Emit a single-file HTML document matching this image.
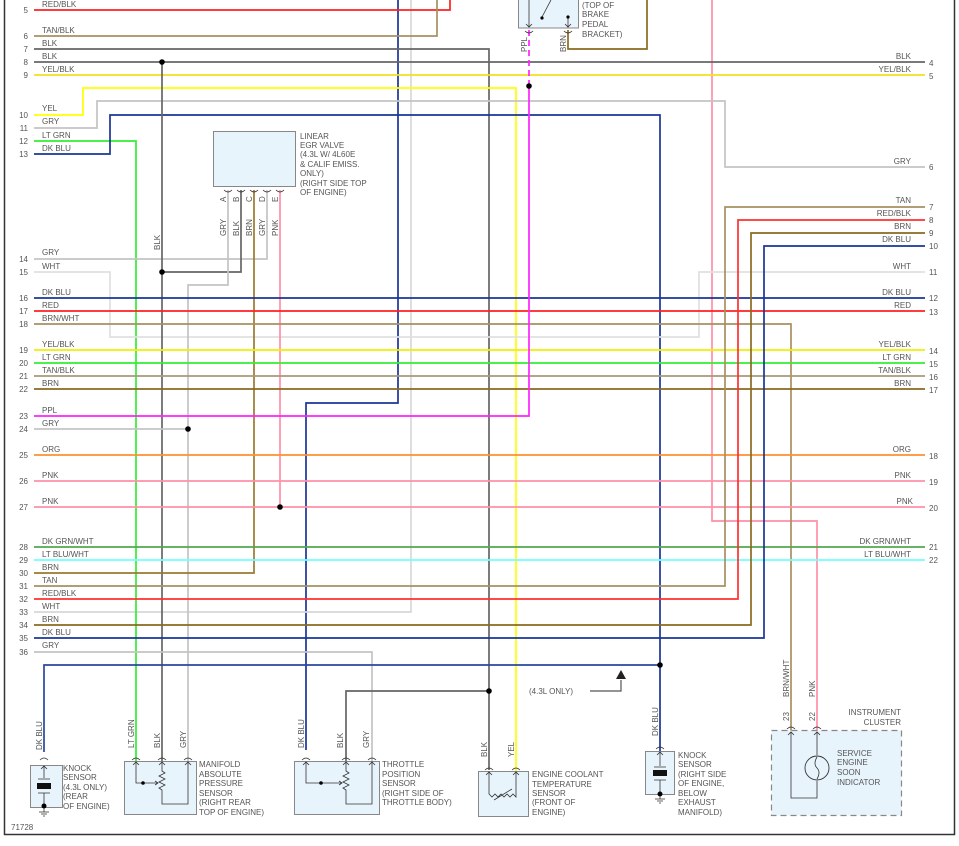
<!DOCTYPE html>
<html><head><meta charset="utf-8"><style>
html,body{margin:0;padding:0;background:#fff;}
svg{display:block;}
text{font-family:"Liberation Sans",sans-serif;font-size:8px;fill:#555;}
</style></head><body>
<svg width="959" height="846" viewBox="0 0 959 846" xmlns="http://www.w3.org/2000/svg">
<rect x="0" y="0" width="959" height="846" fill="#fff"/>
<!-- border -->
<path d="M4.5 0 V834.5 H954.5 V0" fill="none" stroke="#333" stroke-width="1.5"/>

<g fill="none" stroke-width="1.7">
<!-- vertical pass lines from top -->
<path d="M398 0 V403 H306 V750" stroke="#1a3596"/>
<path d="M411 0 V612 H34" stroke="#d8d8d8"/>
<path d="M712 0 V521 H817 V752" stroke="#ff8fa8"/>

<!-- left rows -->
<path d="M34 10 H450 V0" stroke="#ff2020"/>
<path d="M34 36 H437 V0" stroke="#a89060"/>
<path d="M34 49 H489 V770" stroke="#666"/>
<path d="M34 62 H925" stroke="#666"/>
<path d="M34 75 H925" stroke="#f0e020"/>
<path d="M34 115 H83 V88 H516 V772" stroke="#ffff00"/>
<path d="M34 128 H97 V101 H725 V167 H925" stroke="#c4c4c4"/>
<path d="M34 141 H136 V762" stroke="#33ee33"/>
<path d="M34 154 H110 V115 H660 V752" stroke="#1a3596"/>
<path d="M34 259 H267 V190" stroke="#c4c4c4"/>
<path d="M34 272 H110 V337 H699 V272 H925" stroke="#e0e0e0"/>
<path d="M162 62 V762" stroke="#666"/>
<path d="M241 190 V272 H162" stroke="#666"/>
<path d="M228 190 V285 H188 V762" stroke="#c4c4c4"/>
<path d="M254 190 V573 H34" stroke="#9a7a30"/>
<path d="M280 190 V507" stroke="#ff8fa8"/>
<path d="M34 298 H925" stroke="#1a3596"/>
<path d="M34 311 H925" stroke="#ff2020"/>
<path d="M34 324 H791 V752" stroke="#a89060"/>
<path d="M34 350 H925" stroke="#f0f000"/>
<path d="M34 363 H925" stroke="#33ee33"/>
<path d="M34 376 H925" stroke="#a89878"/>
<path d="M34 389 H925" stroke="#8a6a20"/>
<path d="M34 416 H529 V86" stroke="#ff22ff"/>
<path d="M529 86 V30" stroke="#ff22ff" stroke-dasharray="6 4"/>
<path d="M34 429 H188" stroke="#c4c4c4"/>
<path d="M34 455 H925" stroke="#ff9030"/>
<path d="M34 481 H925" stroke="#ff8fa8"/>
<path d="M34 507 H925" stroke="#ff8fa8"/>
<path d="M34 547 H925" stroke="#50a850"/>
<path d="M34 560 H925" stroke="#70ffff"/>
<path d="M34 586 H725 V207 H925" stroke="#a89060"/>
<path d="M34 599 H738 V220 H925" stroke="#ff3030"/>
<path d="M34 625 H751 V233 H925" stroke="#8a6a20"/>
<path d="M34 638 H764 V246 H925" stroke="#1a3596"/>
<path d="M34 652 H372 V762" stroke="#c4c4c4"/>
<path d="M44 752 V665 H660" stroke="#2a48a0"/>
<path d="M346 762 V691 H489" stroke="#666"/>
<path d="M568 30 V49 H647 V0" stroke="#8a6a20"/>
<path d="M590 691 H621 V680" stroke="#555" stroke-width="1.2"/>
</g>
<polygon points="621,670 616,679 626,679" fill="#222"/>

<!-- junction dots -->
<g fill="#000">
<circle cx="162" cy="62" r="2.8"/><circle cx="162" cy="272" r="2.8"/>
<circle cx="188" cy="429" r="2.8"/><circle cx="280" cy="507" r="2.8"/>
<circle cx="529" cy="86" r="2.8"/><circle cx="489" cy="691" r="2.8"/>
<circle cx="660" cy="665" r="2.8"/>
</g>

<!-- left labels -->
<g>
<text x="42" y="7">RED/BLK</text><text x="42" y="33">TAN/BLK</text><text x="42" y="46">BLK</text>
<text x="42" y="59">BLK</text><text x="42" y="72">YEL/BLK</text><text x="42" y="111">YEL</text>
<text x="42" y="124">GRY</text><text x="42" y="138">LT GRN</text><text x="42" y="151">DK BLU</text>
<text x="42" y="255">GRY</text><text x="42" y="269">WHT</text><text x="42" y="295">DK BLU</text>
<text x="42" y="308">RED</text><text x="42" y="321">BRN/WHT</text><text x="42" y="347">YEL/BLK</text>
<text x="42" y="360">LT GRN</text><text x="42" y="373">TAN/BLK</text><text x="42" y="386">BRN</text>
<text x="42" y="413">PPL</text><text x="42" y="426">GRY</text><text x="42" y="452">ORG</text>
<text x="42" y="478">PNK</text><text x="42" y="504">PNK</text><text x="42" y="544">DK GRN/WHT</text>
<text x="42" y="557">LT BLU/WHT</text><text x="42" y="570">BRN</text><text x="42" y="583">TAN</text>
<text x="42" y="596">RED/BLK</text><text x="42" y="609">WHT</text><text x="42" y="622">BRN</text>
<text x="42" y="635">DK BLU</text><text x="42" y="648">GRY</text>
</g>
<g text-anchor="end">
<text x="28" y="13">5</text><text x="28" y="39">6</text><text x="28" y="52">7</text><text x="28" y="65">8</text>
<text x="28" y="78">9</text><text x="28" y="118">10</text><text x="28" y="131">11</text><text x="28" y="144">12</text>
<text x="28" y="157">13</text><text x="28" y="262">14</text><text x="28" y="275">15</text><text x="28" y="301">16</text>
<text x="28" y="314">17</text><text x="28" y="327">18</text><text x="28" y="353">19</text><text x="28" y="366">20</text>
<text x="28" y="379">21</text><text x="28" y="392">22</text><text x="28" y="419">23</text><text x="28" y="432">24</text>
<text x="28" y="458">25</text><text x="28" y="484">26</text><text x="28" y="510">27</text><text x="28" y="550">28</text>
<text x="28" y="563">29</text><text x="28" y="576">30</text><text x="28" y="589">31</text><text x="28" y="602">32</text>
<text x="28" y="615">33</text><text x="28" y="628">34</text><text x="28" y="641">35</text><text x="28" y="655">36</text>
</g>
<!-- right labels -->
<g text-anchor="end">
<text x="911" y="59">BLK</text><text x="911" y="72">YEL/BLK</text><text x="911" y="164">GRY</text>
<text x="911" y="203">TAN</text><text x="911" y="216">RED/BLK</text><text x="911" y="229">BRN</text>
<text x="911" y="242">DK BLU</text><text x="911" y="269">WHT</text><text x="911" y="295">DK BLU</text>
<text x="911" y="308">RED</text><text x="911" y="347">YEL/BLK</text><text x="911" y="360">LT GRN</text>
<text x="911" y="373">TAN/BLK</text><text x="911" y="386">BRN</text><text x="911" y="452">ORG</text>
<text x="911" y="478">PNK</text><text x="913" y="504">PNK</text><text x="911" y="544">DK GRN/WHT</text>
<text x="911" y="557">LT BLU/WHT</text>
</g>
<g>
<text x="929" y="66">4</text><text x="929" y="79">5</text><text x="929" y="170">6</text><text x="929" y="210">7</text>
<text x="929" y="223">8</text><text x="929" y="236">9</text><text x="929" y="249">10</text><text x="929" y="275">11</text>
<text x="929" y="301">12</text><text x="929" y="315">13</text><text x="929" y="354">14</text><text x="929" y="367">15</text>
<text x="929" y="380">16</text><text x="929" y="393">17</text><text x="929" y="459">18</text><text x="929" y="485">19</text>
<text x="929" y="511">20</text><text x="929" y="550">21</text><text x="929" y="563">22</text>
</g>

<!-- brake switch -->
<rect x="518.5" y="-2" width="60" height="30" fill="#e8f4fc" stroke="#888" stroke-width="1"/>
<path d="M529 0 V27 M526 24 L529 27 L532 24 M568 17 V27 M565 24 L568 27 L571 24 M542 17 L551 0" stroke="#333" fill="none" stroke-width="0.8"/>
<circle cx="542" cy="18" r="1.6" fill="#000"/><circle cx="568" cy="17" r="1.6" fill="#000"/>
<path d="M525 31 Q529 35 533 31 M564 31 Q568 35 572 31" stroke="#333" fill="none" stroke-width="0.8"/>
<text x="582" y="8">(TOP OF</text><text x="582" y="17">BRAKE</text><text x="582" y="27">PEDAL</text><text x="582" y="37">BRACKET)</text>
<text transform="translate(527,52) rotate(-90)">PPL</text>
<text transform="translate(566,52) rotate(-90)">BRN</text>

<!-- EGR valve -->
<rect x="213.5" y="131.5" width="82" height="55" fill="#e8f4fc" stroke="#888" stroke-width="1"/>
<path d="M224 190 Q228 194 232 190 M237 190 Q241 194 245 190 M250 190 Q254 194 258 190 M263 190 Q267 194 271 190 M276 190 Q280 194 284 190" stroke="#333" fill="none" stroke-width="0.8"/>
<text x="300" y="139">LINEAR</text><text x="300" y="148">EGR VALVE</text><text x="300" y="157">(4.3L W/ 4L60E</text>
<text x="300" y="167">&amp; CALIF EMISS.</text><text x="300" y="176">ONLY)</text><text x="300" y="186">(RIGHT SIDE TOP</text><text x="300" y="195">OF ENGINE)</text>
<g>
<text transform="translate(226,202) rotate(-90)">A</text><text transform="translate(239,202) rotate(-90)">B</text>
<text transform="translate(252,202) rotate(-90)">C</text><text transform="translate(265,202) rotate(-90)">D</text>
<text transform="translate(278,202) rotate(-90)">E</text>
<text transform="translate(226,236) rotate(-90)">GRY</text><text transform="translate(239,236) rotate(-90)">BLK</text>
<text transform="translate(252,236) rotate(-90)">BRN</text><text transform="translate(265,236) rotate(-90)">GRY</text>
<text transform="translate(278,236) rotate(-90)">PNK</text>
<text transform="translate(160,250) rotate(-90)">BLK</text>
</g>

<!-- bottom vertical labels -->
<g>
<text transform="translate(42,750) rotate(-90)">DK BLU</text>
<text transform="translate(134,748) rotate(-90)">LT GRN</text>
<text transform="translate(160,748) rotate(-90)">BLK</text>
<text transform="translate(186,748) rotate(-90)">GRY</text>
<text transform="translate(304,748) rotate(-90)">DK BLU</text>
<text transform="translate(343,748) rotate(-90)">BLK</text>
<text transform="translate(369,748) rotate(-90)">GRY</text>
<text transform="translate(487,757) rotate(-90)">BLK</text>
<text transform="translate(514,757) rotate(-90)">YEL</text>
<text transform="translate(658,736) rotate(-90)">DK BLU</text>
<text transform="translate(789,697) rotate(-90)">BRN/WHT</text>
<text transform="translate(815,697) rotate(-90)">PNK</text>
<text transform="translate(789,721) rotate(-90)">23</text>
<text transform="translate(815,721) rotate(-90)">22</text>
</g>
<text x="529" y="694">(4.3L ONLY)</text>

<!-- knock sensor 1 -->
<rect x="30.5" y="765.5" width="32" height="42" fill="#e8f4fc" stroke="#888" stroke-width="1"/>
<path d="M40 760 Q44 756 48 760" stroke="#333" fill="none" stroke-width="0.8"/>
<path d="M44 766 V778 M41 769 L44 766 L47 769 M38 779 H50 M38 793 H50 M44 793 V807 V812 M39 812 H49 M41 814 H47 M43 816 H45" stroke="#333" fill="none" stroke-width="0.8"/>
<rect x="37" y="783" width="14" height="6" fill="#111"/>
<circle cx="44" cy="806" r="2.5" fill="#000"/>
<text x="63" y="771">KNOCK</text><text x="63" y="780">SENSOR</text><text x="63" y="790">(4.3L ONLY)</text><text x="63" y="799">(REAR</text><text x="63" y="809">OF ENGINE)</text>

<!-- MAP sensor -->
<rect x="124.5" y="761.5" width="72" height="53" fill="#e8f4fc" stroke="#888" stroke-width="1"/>
<path d="M132 760 Q136 756 140 760 M158 760 Q162 756 166 760 M184 760 Q188 756 192 760" stroke="#333" fill="none" stroke-width="0.8"/>
<path d="M136 762 V783 H157 M162 762 V771 L165 773 L159 776 L165 779 L159 782 L165 785 L159 788 L162 790 V804 H188 V762 M133 765 L136 762 L139 765 M159 765 L162 762 L165 765 M185 765 L188 762 L191 765 M155 781 L158 783 L155 785" stroke="#333" fill="none" stroke-width="0.8"/>
<circle cx="143" cy="783" r="1.8" fill="#000"/>
<text x="199" y="767">MANIFOLD</text><text x="199" y="777">ABSOLUTE</text><text x="199" y="786">PRESSURE</text>
<text x="199" y="796">SENSOR</text><text x="199" y="805">(RIGHT REAR</text><text x="199" y="815">TOP OF ENGINE)</text>

<!-- TPS -->
<rect x="294.5" y="761.5" width="85" height="53" fill="#e8f4fc" stroke="#888" stroke-width="1"/>
<path d="M302 760 Q306 756 310 760 M342 760 Q346 756 350 760 M368 760 Q372 756 376 760" stroke="#333" fill="none" stroke-width="0.8"/>
<path d="M306 762 V783 H341 M346 762 V771 L349 773 L343 776 L349 779 L343 782 L349 785 L343 788 L346 790 V804 H372 V762 M303 765 L306 762 L309 765 M343 765 L346 762 L349 765 M369 765 L372 762 L375 765 M339 781 L342 783 L339 785" stroke="#333" fill="none" stroke-width="0.8"/>
<circle cx="321" cy="783" r="1.8" fill="#000"/>
<text x="382" y="767">THROTTLE</text><text x="382" y="777">POSITION</text><text x="382" y="786">SENSOR</text>
<text x="382" y="796">(RIGHT SIDE OF</text><text x="382" y="805">THROTTLE BODY)</text>

<!-- ECT -->
<rect x="478.5" y="771.5" width="50" height="45" fill="#e8f4fc" stroke="#888" stroke-width="1"/>
<path d="M485 770 Q489 766 493 770 M512 770 Q516 766 520 770" stroke="#333" fill="none" stroke-width="0.8"/>
<path d="M489 772 V794 L492 797 L495 794 L498 797 L501 794 L504 797 L507 794 L510 797 L513 794 L516 797 V772 M486 775 L489 772 L492 775 M513 775 L516 772 L519 775 M494 800 L512 789" stroke="#333" fill="none" stroke-width="0.8"/>
<text x="532" y="777">ENGINE COOLANT</text><text x="532" y="787">TEMPERATURE</text><text x="532" y="796">SENSOR</text>
<text x="532" y="805">(FRONT OF</text><text x="532" y="815">ENGINE)</text>

<!-- knock sensor 2 -->
<rect x="645.5" y="751.5" width="29" height="43" fill="#e8f4fc" stroke="#888" stroke-width="1"/>
<path d="M656 749 Q660 745 664 749" stroke="#333" fill="none" stroke-width="0.8"/>
<path d="M660 752 V766 M657 755 L660 752 L663 755 M654 767 H666 M654 780 H666 M660 780 V794 V799 M655 799 H665 M657 801 H663 M659 803 H661" stroke="#333" fill="none" stroke-width="0.8"/>
<rect x="653" y="770" width="14" height="6" fill="#111"/>
<circle cx="660" cy="794" r="2.5" fill="#000"/>
<text x="678" y="758">KNOCK</text><text x="678" y="767">SENSOR</text><text x="678" y="777">(RIGHT SIDE</text>
<text x="678" y="786">OF ENGINE,</text><text x="678" y="796">BELOW</text><text x="678" y="805">EXHAUST</text><text x="678" y="815">MANIFOLD)</text>

<!-- instrument cluster -->
<rect x="771.5" y="730.5" width="130" height="85" fill="#e8f4fc" stroke="#888" stroke-width="1.2" stroke-dasharray="6 4"/>
<path d="M787 729 Q791 725 795 729 M813 729 Q817 725 821 729" stroke="#333" fill="none" stroke-width="0.8"/>
<path d="M791 732 V798 H817 V781 M817 732 V755 M788 735 L791 732 L794 735 M814 735 L817 732 L820 735" stroke="#333" fill="none" stroke-width="0.8"/>
<circle cx="817" cy="768" r="12" fill="none" stroke="#333" stroke-width="0.9"/>
<path d="M817 757 Q813 764 817 768 Q821 772 817 779" stroke="#333" fill="none" stroke-width="0.8"/>
<text x="901" y="715" text-anchor="end">INSTRUMENT</text><text x="901" y="725" text-anchor="end">CLUSTER</text>
<text x="837" y="756">SERVICE</text><text x="837" y="765">ENGINE</text><text x="837" y="775">SOON</text><text x="837" y="785">INDICATOR</text>

<text x="11" y="830">71728</text>
</svg>
</body></html>
